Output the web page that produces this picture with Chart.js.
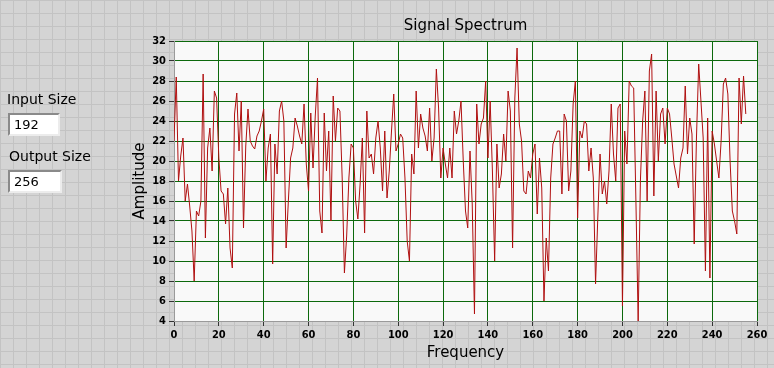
<!DOCTYPE html>
<html>
<head>
<meta charset="utf-8">
<script src="https://cdn.jsdelivr.net/npm/chart.js@4.4.1/dist/chart.umd.min.js"></script>
<style>
html, body { margin: 0; padding: 0; }
body {
    width: 774px; height: 368px; overflow: hidden; position: relative;
    background-color: #d4d4d4;
    background-image: linear-gradient(#c3c3c3 1px, transparent 1px),
                      linear-gradient(90deg, #c3c3c3 1px, transparent 1px);
    background-size: 13px 13px;
    font-family: "DejaVu Sans", sans-serif;
}
#chartBox { position: absolute; left: 0; top: 0; width: 774px; height: 368px; }
.lbl { position: absolute; font-size: 14px; color: #000; z-index: 2; }
.num {
    position: absolute; z-index: 2; width: 44px; height: 19px; padding-left: 4px;
    background: #fff; border: 2px solid; border-color: #8a8a8a #ececec #ececec #8a8a8a;
    font-size: 13px; line-height: 19px; color: #000;
}
</style>
</head>
<body>
<div class="lbl" style="left:7px;top:91px">Input Size</div>
<div class="num" id="inputBox" style="left:8px;top:113px"></div>
<div class="lbl" style="left:9px;top:148px">Output Size</div>
<div class="num" id="outputBox" style="left:8px;top:170px;width:46px"></div>
<div id="chartBox"><canvas id="spectrum"></canvas></div>
<script>
const inputSize = 192;
const outputSize = 256;

const xTicks = [0, 20, 40, 60, 80, 100, 120, 140, 160, 180, 200, 220, 240, 260];
const yTicks = [4, 6, 8, 10, 12, 14, 16, 18, 20, 22, 24, 26, 28, 30, 32];

// amplitude per frequency bin (0..255)
const amplitude = [
    22, 28.4, 18, 20.5, 22.3, 16, 17.7, 15.5, 13, 8,
    15, 14.5, 16, 28.7, 12.3, 21.3, 23.3, 19, 27, 26.3,
    20.3, 17, 16.7, 13.7, 17.3, 11.3, 9.3, 24.7, 26.8, 21,
    26, 13.3, 21.5, 25.2, 22, 21.5, 21.2, 22.5, 23, 24,
    25.2, 18, 21.3, 22.7, 9.7, 21.7, 18.7, 25, 26, 24,
    11.3, 16, 20.3, 21.3, 24.3, 23.5, 22.5, 21.7, 25.7, 19.7,
    17, 24.8, 19.3, 24.5, 28.3, 15, 12.8, 24.8, 19, 23,
    14, 26.5, 22, 25.3, 25, 18.3, 8.8, 12.5, 18.3, 21.7,
    21.3, 16, 14.2, 17.7, 22.3, 12.8, 25, 20.3, 20.7, 18.7,
    22.3, 24, 21.3, 17, 23, 16.3, 19, 23, 26.7, 21,
    21.7, 22.7, 22.3, 18.3, 12, 10, 20.7, 18.7, 27, 21.3,
    24.7, 23.3, 22.5, 21, 25.3, 20, 22.3, 29.2, 25.3, 18.3,
    21.3, 19.7, 18.3, 21.3, 18.3, 25, 22.7, 24, 26, 20,
    15, 13.3, 21, 15.7, 4.7, 25.7, 21.7, 23.7, 24.3, 28,
    20.3, 26, 19, 10, 21.7, 17.3, 18.7, 22.7, 20, 27,
    25, 11.3, 26.3, 31.3, 23.7, 22, 17, 16.7, 19, 18.3,
    20.7, 21.7, 14.7, 20.3, 17.3, 6, 12.3, 9, 18.3, 21.7,
    22.3, 23, 23, 16.7, 24.7, 24, 17, 19, 25.7, 28,
    14.3, 23, 22.3, 24, 23.7, 19, 21.3, 18.3, 7.7, 14.3,
    20.7, 16.7, 18, 15.7, 19, 25.7, 20.7, 18, 25.3, 25.7,
    5.5, 23, 19.7, 28, 27.5, 27.3, 16, 4, 18, 24,
    27, 16, 29, 30.7, 16.5, 27, 20, 24.7, 25.3, 21.7,
    25.3, 24.7, 22.3, 19.7, 18.5, 17.3, 20.3, 21.3, 27.5, 20.7,
    24.3, 22.7, 11.7, 22.3, 29.7, 26, 22.3, 9, 24.3, 8.3,
    23, 21.7, 20, 18.3, 22, 27.7, 28.3, 26.7, 20, 15,
    14, 12.7, 28.3, 23.7, 28.5, 24.7
];

document.getElementById("inputBox").textContent = inputSize;
document.getElementById("outputBox").textContent = outputSize;

const gridGreen = "#0c690c";
const tickFont = { family: "'DejaVu Sans Condensed', 'DejaVu Sans', sans-serif", size: 11, weight: "bold" };

// white plot background
const plotBg = {
    id: "plotBg",
    beforeDraw(chart) {
        const a = chart.chartArea;
        const ctx = chart.ctx;
        ctx.save();
        ctx.fillStyle = "#f9f9f9";
        ctx.fillRect(a.left, a.top, a.right - a.left, a.bottom - a.top);
        ctx.restore();
    }
};

new Chart(document.getElementById("spectrum"), {
    type: "line",
    data: {
        datasets: [{
            data: amplitude.map((v, i) => ({ x: i, y: v })),
            borderColor: "#b01010",
            borderWidth: 1,
            pointRadius: 0,
            tension: 0
        }]
    },
    options: {
        responsive: true,
        maintainAspectRatio: false,
        animation: false,
        events: [],
        layout: { padding: { left: 120, right: 17, top: 0, bottom: 0 } },
        plugins: {
            legend: { display: false },
            tooltip: { enabled: false },
            title: {
                display: true,
                text: "Signal Spectrum",
                fullSize: false,
                color: "#000",
                font: { family: "'DejaVu Sans', sans-serif", size: 15, weight: "normal" },
                padding: { top: 17, bottom: 6 }
            }
        },
        scales: {
            x: {
                type: "linear",
                min: 0,
                max: 260,
                afterBuildTicks: s => { s.ticks = xTicks.map(v => ({ value: v })); },
                afterFit: s => { s.height = 47; },
                grid: { color: gridGreen, tickColor: "#333", tickLength: 5, lineWidth: 1 },
                border: { color: "#9a9a9a" },
                ticks: { color: "#000", font: tickFont, padding: 3, maxRotation: 0, autoSkip: false },
                title: {
                    display: true, text: "Frequency", color: "#000",
                    font: { family: "'DejaVu Sans', sans-serif", size: 15 },
                    padding: { top: 0, bottom: 6 }
                }
            },
            y: {
                min: 4,
                max: 32,
                afterBuildTicks: s => { s.ticks = yTicks.map(v => ({ value: v })); },
                afterFit: s => { s.width = 54; },
                grid: { color: gridGreen, tickColor: "#333", tickLength: 5, lineWidth: 1 },
                border: { color: "#9a9a9a" },
                ticks: { color: "#000", font: tickFont, padding: 3, autoSkip: false },
                title: {
                    display: true, text: "Amplitude", color: "#000",
                    font: { family: "'DejaVu Sans', sans-serif", size: 15 },
                    padding: { top: 11, bottom: 0 }
                }
            }
        }
    },
    plugins: [plotBg]
});
</script>
</body>
</html>
